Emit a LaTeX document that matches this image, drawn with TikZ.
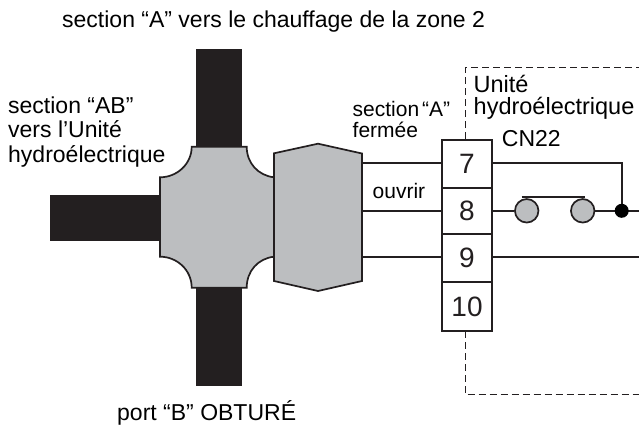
\documentclass[tikz,border=0pt]{standalone}
\usepackage{fontspec}
\setmainfont{Liberation Sans}
\usetikzlibrary{calc}
\definecolor{dk}{HTML}{231F20}
\definecolor{gr}{HTML}{BCBEC0}
\tikzset{
 pipe/.style={fill=dk,draw=none},
 body/.style={fill=gr,draw=dk,line width=1.7pt,line join=miter},
 wire/.style={draw=dk,line width=1.7pt},
 boxdash/.style={draw=dk,line width=1pt,dash pattern=on 7pt off 4pt},
 term/.style={draw=dk,line width=1.9pt,fill=white,minimum width=49.4pt,inner sep=0pt,font=\fontsize{28}{28}\selectfont,text=dk},
 lab/.style={anchor=base west,align=left,inner sep=0pt,text=black,font=\fontsize{23}{24.7}\selectfont},
 labr/.style={anchor=base west,align=left,inner sep=0pt,text=black,font=\fontsize{23.5}{22}\selectfont},
 labs/.style={anchor=base west,align=left,inner sep=0pt,text=black,font=\fontsize{21}{21}\selectfont},
 contact/.style={circle,fill=gr,draw=dk,line width=1.7pt,minimum size=23.5pt,inner sep=0pt},
 junction/.style={circle,fill=black,draw=none,minimum size=14pt,inner sep=0pt}
}
\begin{document}
\begin{tikzpicture}[x=1pt,y=-1pt]
\useasboundingbox (0,0) rectangle (639,425);
\fill[white] (0,0) rectangle (639,425);
% pipes
\path[pipe] (196,49.3) rectangle (242,150);
\path[pipe] (196,285) rectangle (242,385.7);
\path[pipe] (50,195) rectangle (165,240.7);
% dashed box
\draw[boxdash] (465,139) -- (465,68) -- (639,68);
\draw[boxdash] (465,331) -- (465,394.5) -- (639,394.5);
% free ends and junction point
\coordinate (jn) at (621.7,210.8);
\coordinate (re8) at (639,210.8);
\coordinate (re9) at (639,257.3);
% valve
\path[body] (191.7,146.7) -- (246.7,146.7)
  .. controls (246.7,163) and (258,175.5) .. (274,177.3)
  -- (274,256.7) .. controls (258,258.5) and (246.7,271) .. (246.7,287.7)
  -- (191.7,287.7) .. controls (191.7,270) and (177,256.7) .. (160,256.7)
  -- (160,177.3) .. controls (177,177.3) and (191.7,164) .. (191.7,146.7) -- cycle;
\path[body] (274,153.3) -- (318,143.7) -- (362,153.5) -- (362,281) -- (318,291) -- (274,281) -- cycle;
% terminals
\node[term,minimum height=48pt] (t7) at (467,164) {7};
\node[term,minimum height=46pt] (t8) at (467,211) {8};
\node[term,minimum height=48pt] (t9) at (467,258) {9};
\node[term,minimum height=49pt] (t10) at (467,306.5) {10};
\coordinate (a7) at (362,163.3);
\coordinate (a8) at (362,210.8);
\coordinate (a9) at (362,257.3);
\draw[wire] (a7) -- (t7.west|-a7);
\draw[wire] (a8) -- (t8.west|-a8);
\draw[wire] (a9) -- (t9.west|-a9);
\node[contact] (c1) at (526.7,210.8) {};
\node[contact] (c2) at (582.7,210.8) {};
\draw[wire] (t8.east|-a8) -- (c1);
\draw[wire] (c2) -- (re8);
\draw[wire] (t7.east|-a7) -| (jn);
\draw[wire] (t9.east|-a9) -- (re9);
\draw[wire] ($(c1.north)+(-5,-1.5)$) -- ($(c2.north)+(2.5,-1.5)$);
\node[junction] (j) at (jn) {};
% labels
\node[lab] (l1) at (62,28) {section “A” vers le chauffage de la zone 2};
\node[lab] (l2) at (8,162.4) {section “AB”\\vers l’Unité\\hydroélectrique};
\node[lab] (l3) at (117,420) {port “B” OBTURÉ};
\node[labs] (l4) at (352.5,137.7) {section\hspace{3pt}“A”\\fermée};
\node[labs] (l5) at (372.5,198) {ouvrir};
\node[labr] (l6) at (473.5,114.3) {Unité\\hydroélectrique};
\node[lab] (l7) at (501.7,146) {CN22};
\end{tikzpicture}
\end{document}
